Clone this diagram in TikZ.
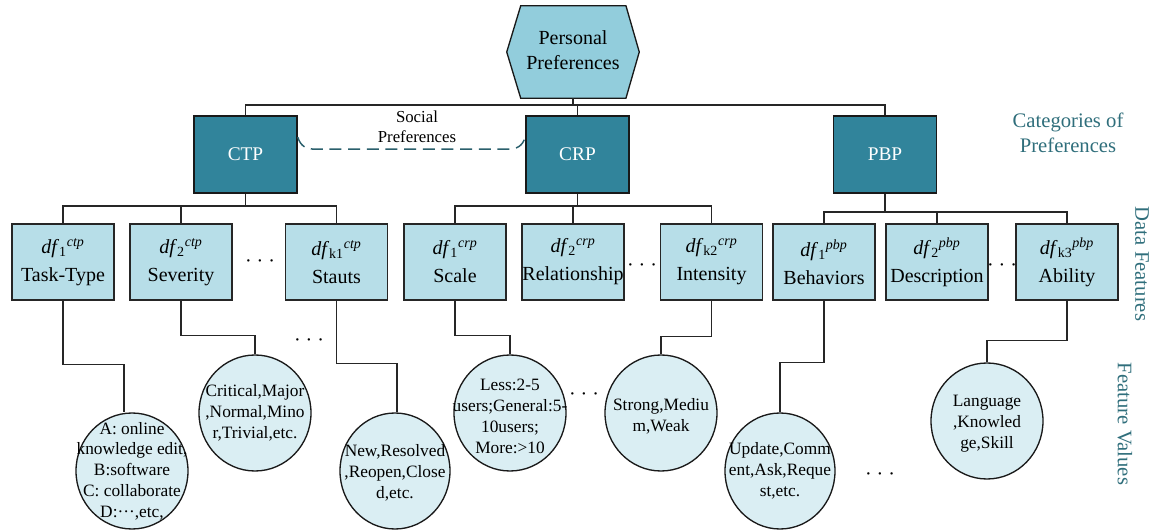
\documentclass[tikz,border=0pt]{standalone}
\usepackage{fontspec}
\setmainfont{Liberation Serif}
\usetikzlibrary{shapes.geometric,calc}
\definecolor{hexfill}{HTML}{92CDDC}
\definecolor{darkbox}{HTML}{31849B}
\definecolor{lightbox}{HTML}{B7DEE8}
\definecolor{valfill}{HTML}{DAEEF3}
\definecolor{labcol}{HTML}{2F6E7B}
\definecolor{dashcol}{HTML}{2A5F6C}
\begin{document}
\begin{tikzpicture}[x=0.75pt,y=-0.75pt,
  conn/.style={draw=black!85,line width=0.9pt},
  catbox/.style={draw=black!90,line width=1.1pt,fill=darkbox,text=white,minimum width=77.25pt,minimum height=57.75pt,inner sep=0pt,font=\fontsize{14.5}{17}\selectfont},
  featbox/.style={draw=black!85,line width=1pt,fill=lightbox,minimum width=76.5pt,minimum height=57pt,inner sep=0pt,align=center,font=\fontsize{15}{21}\selectfont},
  valnode/.style={ellipse,draw=black!90,line width=1pt,fill=valfill,minimum width=84pt,minimum height=87pt,inner sep=0pt},
  valtext/.style={align=center,inner sep=0pt,font=\fontsize{13}{15.6}\selectfont},
  sidelabel/.style={text=labcol,font=\fontsize{15.5}{19}\selectfont,align=center,inner sep=0pt},
  dotsnode/.style={inner sep=0pt,font=\fontsize{15}{18}\selectfont}]
\useasboundingbox (0,0) rectangle (1153,530);

% top hexagon
\node[minimum width=99pt,minimum height=69pt,inner sep=0pt] (pp) at (573,52) {};
\draw[draw=black!90,line width=1pt,fill=hexfill]
  (pp.west) -- ([xshift=10.5pt]pp.north west) -- ([xshift=-10pt]pp.north east) -- (pp.east)
  -- ([xshift=-10pt]pp.south east) -- ([xshift=10.5pt]pp.south west) -- cycle;
\node[align=center,inner sep=0pt,font=\fontsize{15}{18.75}\selectfont] (ppt) at (573,50) {Personal\\Preferences};

% categories
\node[catbox] (ctp) at (245.5,154.5) {CTP};
\node[catbox] (crp) at (577.5,154.5) {CRP};
\node[catbox] (pbp) at (885,154.5) {PBP};

\coordinate (top) at (573,105);
\draw[conn] (pp.south) -- (top);
\draw[conn] (ctp.north) -- (ctp.north |- top) -- (pbp.north |- top) -- (pbp.north);
\draw[conn] (crp.north) -- (crp.north |- top);

% social preferences dashed link
\coordinate (sA) at ([yshift=13pt]ctp.east);
\coordinate (sB) at ([yshift=13pt]crp.west);
\draw[dashcol,line width=1.1pt,dash pattern=on 9pt off 5pt]
  (sA) .. controls +(3,9) and +(-10,0) .. ($(sA)+(18,12)$)
  -- ($(sB)+(-18,12)$) .. controls +(10,0) and +(-3,9) .. (sB);
\node[align=center,inner sep=0pt,font=\fontsize{12.6}{15}\selectfont] (soc) at (417,127) {Social\\Preferences};

% feature boxes
\node[featbox] (b1) at (63,262) {\textit{df}\textsubscript{1}\textsuperscript{\textit{ctp}}\\Task-Type};
\node[featbox] (b2) at (181,262) {\textit{df}\textsubscript{2}\textsuperscript{\textit{ctp}}\\Severity};
\node[featbox] (b3) at (336.5,262) {\textit{df}\textsubscript{k1}\textsuperscript{\textit{ctp}}\\Stauts};
\node[featbox] (b4) at (455,262) {\textit{df}\textsubscript{1}\textsuperscript{\textit{crp}}\\Scale};
\node[featbox] (b5) at (573,262) {\textit{df}\textsubscript{2}\textsuperscript{\textit{crp}}\\Relationship};
\node[featbox] (b6) at (711.5,262) {\textit{df}\textsubscript{k2}\textsuperscript{\textit{crp}}\\Intensity};
\node[featbox] (b7) at (824,262) {\textit{df}\textsubscript{1}\textsuperscript{\textit{pbp}}\\Behaviors};
\node[featbox] (b8) at (937,262) {\textit{df}\textsubscript{2}\textsuperscript{\textit{pbp}}\\Description};
\node[featbox] (b9) at (1067,262) {\textit{df}\textsubscript{k3}\textsuperscript{\textit{pbp}}\\Ability};

\coordinate (r1) at (0,206);
\coordinate (r3) at (0,212);
\draw[conn] (ctp.south) -- (ctp.south |- r1);
\draw[conn] (b1.north) -- (b1.north |- r1) -- (b3.north |- r1) -- (b3.north);
\draw[conn] (b2.north) -- (b2.north |- r1);
\draw[conn] (crp.south) -- (crp.south |- r1);
\draw[conn] (b4.north) -- (b4.north |- r1) -- (b6.north |- r1) -- (b6.north);
\draw[conn] (b5.north) -- (b5.north |- r1);
\draw[conn] (pbp.south) -- (pbp.south |- r3);
\draw[conn] (b7.north) -- (b7.north |- r3) -- (b9.north |- r3) -- (b9.north);
\draw[conn] (b8.north) -- (b8.north |- r3);

% dots between boxes
\node[dotsnode] (d1) at (260,264) {· · ·};
\node[dotsnode] (d2) at (642,268) {· · ·};
\node[dotsnode] (d3) at (1002,268) {· · ·};

% value ellipses
\node[valnode] (c1) at (132,471) {};
\node[valtext] (c1t) at (c1) {A: online\\knowledge edit,\\B:software\\C: collaborate\\D:···,etc,};
\node[valnode] (c2) at (255,413) {};
\node[valtext] (c2t) at (c2) {Critical,Major\\,Normal,Mino\\r,Trivial,etc.};
\node[valnode,minimum width=82.5pt] (c3) at (395,471) {};
\node[valtext] (c3t) at ([yshift=-1.5pt]c3) {New,Resolved\\,Reopen,Close\\d,etc.};
\node[valnode] (c4) at (510,413) {};
\node[valtext] (c4t) at ([yshift=-2.5pt]c4) {Less:2-5\\users;General:5-\\10users;\\More:>10};
\node[valnode] (c5) at (661,413) {};
\node[valtext] (c5t) at ([yshift=-2.5pt]c5) {Strong,Mediu\\m,Weak};
\node[valnode,minimum width=82.5pt] (c6) at (780,471) {};
\node[valtext] (c6t) at (c6) {Update,Comm\\ent,Ask,Reque\\st,etc.};
\node[valnode] (c7) at (987,421) {};
\node[valtext] (c7t) at ([yshift=-2pt]c7) {Language\\,Knowled\\ge,Skill};

\draw[conn] (b1.south) -- ++(0,64) -| ([xshift=-6pt]c1.north);
\draw[conn] (b2.south) -- ++(0,35) -| (c2.north);
\draw[conn] (b3.south) -- ++(0,63) -| ([xshift=1.5pt]c3.north);
\draw[conn] (b4.south) -- ++(0,35) -| (c4.north);
\draw[conn] (b6.south) -- ++(0,36) -| (c5.north);
\draw[conn] (b7.south) -- ++(0,62) -| (c6.north);
\draw[conn] (b9.south) -- ++(0,40) -| (c7.north);

% dots between values
\node[dotsnode] (d4) at (309,343) {· · ·};
\node[dotsnode] (d5) at (584,397) {· · ·};
\node[dotsnode] (d6) at (880,477) {· · ·};

% side labels
\node[sidelabel] (lab1) at (1068,133) {Categories of\\Preferences};
\node[sidelabel,rotate=-90] (lab2) at (1142,264) {Data Features};
\node[sidelabel,rotate=-90] (lab3) at (1125,424) {Feature Values};
\end{tikzpicture}
\end{document}
